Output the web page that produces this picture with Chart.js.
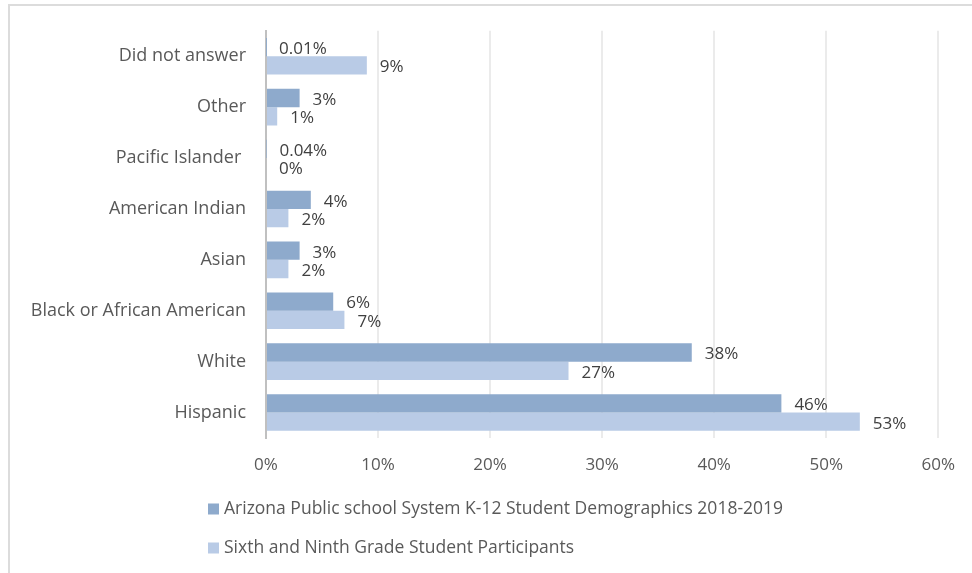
<!DOCTYPE html>
<html>
<head>
<meta charset="utf-8">
<script src="https://cdn.jsdelivr.net/npm/chart.js@4.4.0/dist/chart.umd.min.js"></script>
<style>
  html, body { margin: 0; padding: 0; background: #fff; overflow: hidden; }
  #wrap { position: relative; width: 972px; height: 573px; }
  #frame {
    position: absolute; left: 8px; top: 4px; width: 980px; height: 600px;
    border-left: 2px solid #dcdcdc; border-top: 2px solid #dcdcdc;
  }
  #chart { position: absolute; left: 0; top: 0; }
</style>
</head>
<body>
<div id="wrap">
  <div id="frame"></div>
  <canvas id="chart" width="972" height="573"></canvas>
</div>
<script>
const categories = [
  'Did not answer',
  'Other',
  'Pacific Islander ',
  'American Indian',
  'Asian',
  'Black or African American',
  'White',
  'Hispanic'
];
const arizonaK12 = [0.01, 3, 0.04, 4, 3, 6, 38, 46];
const participants = [9, 1, 0, 2, 2, 7, 27, 53];
const seriesNames = [
  'Arizona Public school System K-12 Student Demographics 2018-2019',
  'Sixth and Ninth Grade Student Participants'
];
const xTicks = [0, 10, 20, 30, 40, 50, 60];

const FONT = '"Open Sans", "Liberation Sans", sans-serif';
const TEXT = '#595959';
const DARK = '#8eaacc';
const LIGHT = '#b9cbe6';

// value labels to the right of each bar
const barLabels = {
  id: 'barLabels',
  afterDatasetsDraw(chart) {
    const ctx = chart.ctx;
    ctx.save();
    ctx.font = '17px ' + FONT;
    ctx.fillStyle = '#404040';
    ctx.textAlign = 'left';
    ctx.textBaseline = 'middle';
    chart.data.datasets.forEach((ds, i) => {
      chart.getDatasetMeta(i).data.forEach((bar, j) => {
        ctx.fillText(ds.data[j] + '%', bar.x + 13, bar.y + 2);
      });
    });
    ctx.restore();
  }
};

// stacked legend under the axis, one series per line
const stackedLegend = {
  id: 'stackedLegend',
  afterDraw(chart) {
    const ctx = chart.ctx;
    ctx.save();
    ctx.font = '17.5px ' + FONT;
    ctx.textAlign = 'left';
    ctx.textBaseline = 'middle';
    chart.data.datasets.forEach((ds, i) => {
      const y = 509 + i * 39;
      ctx.fillStyle = ds.backgroundColor;
      ctx.fillRect(208, y - 5.5, 11, 11);
      ctx.fillStyle = TEXT;
      ctx.fillText(ds.label, 224, y);
    });
    ctx.restore();
  }
};

new Chart(document.getElementById('chart'), {
  type: 'bar',
  data: {
    labels: categories,
    datasets: [
      { label: seriesNames[0], data: arizonaK12, backgroundColor: DARK },
      { label: seriesNames[1], data: participants, backgroundColor: LIGHT }
    ]
  },
  options: {
    indexAxis: 'y',
    responsive: false,
    animation: false,
    categoryPercentage: 0.72,
    barPercentage: 1,
    layout: { padding: { top: 28, right: 32, bottom: 95, left: 0 } },
    plugins: {
      legend: { display: false },
      tooltip: { enabled: false }
    },
    scales: {
      x: {
        min: 0,
        max: 60,
        afterBuildTicks(scale) {
          scale.ticks = xTicks.map(v => ({ value: v }));
        },
        afterFit(scale) { scale.height = 40; },
        grid: { color: '#ebebeb', lineWidth: 2, drawTicks: false },
        border: { display: false },
        ticks: {
          padding: 17,
          color: TEXT,
          font: { family: FONT, size: 17 },
          callback: v => v + '%'
        }
      },
      y: {
        afterFit(scale) { scale.width = 266; },
        grid: { display: false, drawTicks: false },
        border: { display: true, color: '#c0c0c0', width: 2 },
        ticks: {
          padding: 20,
          color: TEXT,
          font: { family: FONT, size: 18 }
        }
      }
    }
  },
  plugins: [barLabels, stackedLegend]
});
</script>
</body>
</html>
